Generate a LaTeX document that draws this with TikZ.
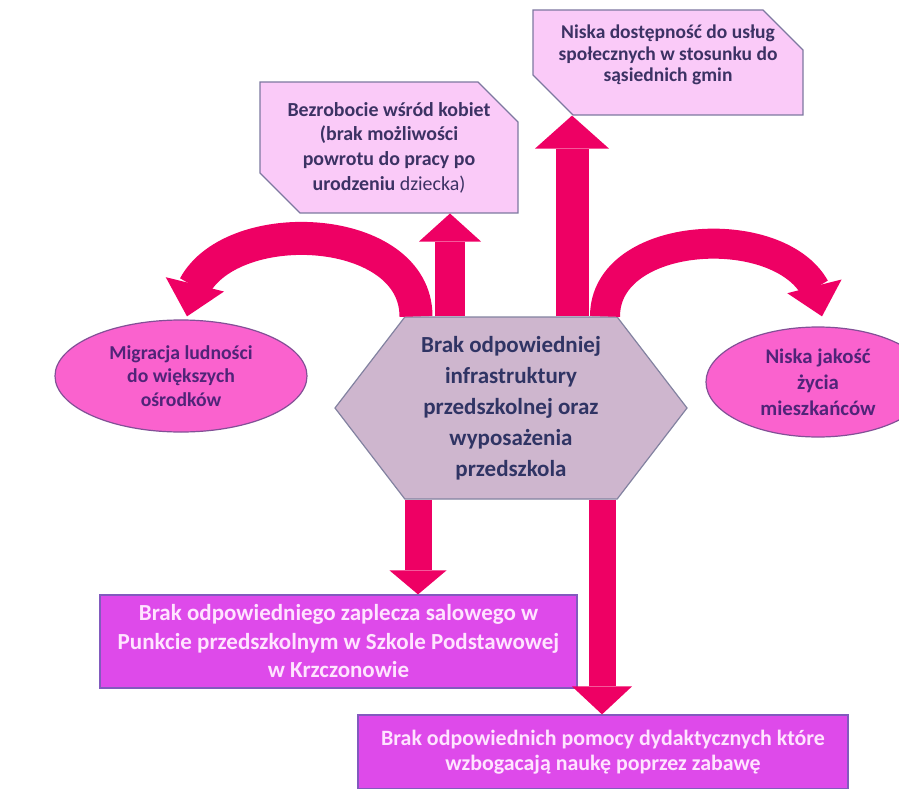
\documentclass[tikz,border=0pt]{standalone}
\usepackage{fontspec}
\setmainfont{Carlito}
\usetikzlibrary{shapes.misc,shapes.symbols,shapes.geometric,arrows.meta,bending}
\definecolor{arrowred}{RGB}{238,0,100}
\definecolor{toppink}{RGB}{250,202,248}
\definecolor{topedge}{RGB}{125,120,160}
\definecolor{hexfill}{RGB}{206,182,206}
\definecolor{hexedge}{RGB}{130,130,160}
\definecolor{ellfill}{RGB}{250,98,206}
\definecolor{elledge}{RGB}{130,80,150}
\definecolor{botfill}{RGB}{222,74,234}
\definecolor{botedge}{RGB}{130,90,190}
\definecolor{navytext}{RGB}{48,52,100}
\definecolor{purptext}{RGB}{80,36,120}
\definecolor{boxtext}{RGB}{60,50,100}
\definecolor{lighttext}{RGB}{255,228,255}
\begin{document}
\begin{tikzpicture}[x=1pt,y=-1pt,
  topbox/.style={chamfered rectangle, chamfered rectangle corners={north east,south west},
    chamfered rectangle xsep=20pt, chamfered rectangle ysep=20pt,
    draw=topedge, line width=1.2pt, fill=toppink, text=boxtext, align=center, inner sep=0pt},
  plaintext/.style={text=boxtext, align=center, inner sep=0pt},
  hexbox/.style={signal, signal to=west and east, signal pointer angle=105,
    draw=hexedge, line width=1.2pt, fill=hexfill, text=navytext, align=center, inner sep=0pt,
    minimum width=352pt, minimum height=182pt},
  ellbox/.style={ellipse, draw=elledge, line width=1.2pt, fill=ellfill, text=purptext,
    align=center, inner sep=0pt},
  botbox/.style={rectangle, draw=botedge, line width=1.2pt, fill=botfill, text=lighttext,
    align=center, inner sep=0pt},
  fat/.style={draw=arrowred, line width=#1}
]
\clip (0,0) rectangle (899,789);
\useasboundingbox (0,0) rectangle (899,789);

% nodes
\node[hexbox, font=\fontsize{23}{31}\selectfont\bfseries] (hex) at (511,408)
  {Brak odpowiedniej\\infrastruktury\\przedszkolnej oraz\\wyposażenia\\przedszkola};
\node[topbox, minimum width=258pt, minimum height=121pt, font=\fontsize{19.9}{24.7}\selectfont\bfseries] (b1) at (389,147.5)
  {Bezrobocie wśród kobiet\\(brak możliwości\\powrotu do pracy po\\urodzeniu \mdseries dziecka)};
\node[topbox, minimum width=270pt, minimum height=105pt] (b2) at (668,62.5) {\phantom{\rule{50pt}{50pt}}};
\node[plaintext, font=\fontsize{19.5}{21.5}\selectfont\bfseries] (b2t) at (668,55)
  {Niska dostępność do usług\\społecznych w stosunku do\\sąsiednich gmin};
\node[ellbox, minimum width=252pt, minimum height=112pt, font=\fontsize{19.7}{23.5}\selectfont\bfseries] (el) at (181,376)
  {Migracja ludności\\do większych\\ośrodków};
\node[ellbox, minimum width=224pt, minimum height=110pt, font=\fontsize{20.8}{26}\selectfont\bfseries] (er) at (818,382)
  {Niska jakość\\życia\\mieszkańców};
\node[botbox, minimum width=477pt, minimum height=93pt, font=\fontsize{23}{28.5}\selectfont\bfseries] (d1) at (338.5,641.5)
  {Brak odpowiedniego zaplecza salowego w\\Punkcie przedszkolnym w Szkole Podstawowej\\w Krzczonowie};
\node[botbox, minimum width=490pt, minimum height=74pt, font=\fontsize{21.9}{25}\selectfont\bfseries] (d2) at (603,752)
  {Brak odpowiednich pomocy dydaktycznych które\\wzbogacają naukę poprzez zabawę};

% arrow x positions
\coordinate (x1) at (450,0);
\coordinate (x2) at (572,0);
\coordinate (x3) at (418,0);
\coordinate (x4) at (602,0);
\coordinate (xl) at (416,0);
\coordinate (xr) at (605,0);
\coordinate (tl) at ([xshift=6pt,yshift=3pt]el.north);
\coordinate (tr) at ([xshift=4pt,yshift=10pt]er.north);

% straight arrows
\draw[fat=30pt, -{Triangle[width=62pt,length=28pt,line width=0pt]}] (x1 |- hex.north) -- (x1 |- b1.south);
\draw[fat=33pt, -{Triangle[width=74pt,length=33pt,line width=0pt]}] (x2 |- hex.north) -- (x2 |- b2.south);
\draw[fat=27pt, -{Triangle[width=57pt,length=24pt,line width=0pt]}] (x3 |- hex.south) -- (x3 |- d1.north);
\draw[fat=27pt, -{Triangle[width=60pt,length=28pt,line width=0pt]}] (x4 |- hex.south) -- (x4 |- d2.north);

% curved arrows
\draw[fat=33pt, -{Triangle[width=60pt,length=33pt,line width=0pt]}] (xl |- hex.north) .. controls +(0,-104) and +(0,-104) .. (tl);
\draw[fat=30pt, -{Triangle[width=56pt,length=31pt,line width=0pt]}] (xr |- hex.north) .. controls +(0,-97) and +(0,-97) .. (tr);
\end{tikzpicture}
\end{document}
